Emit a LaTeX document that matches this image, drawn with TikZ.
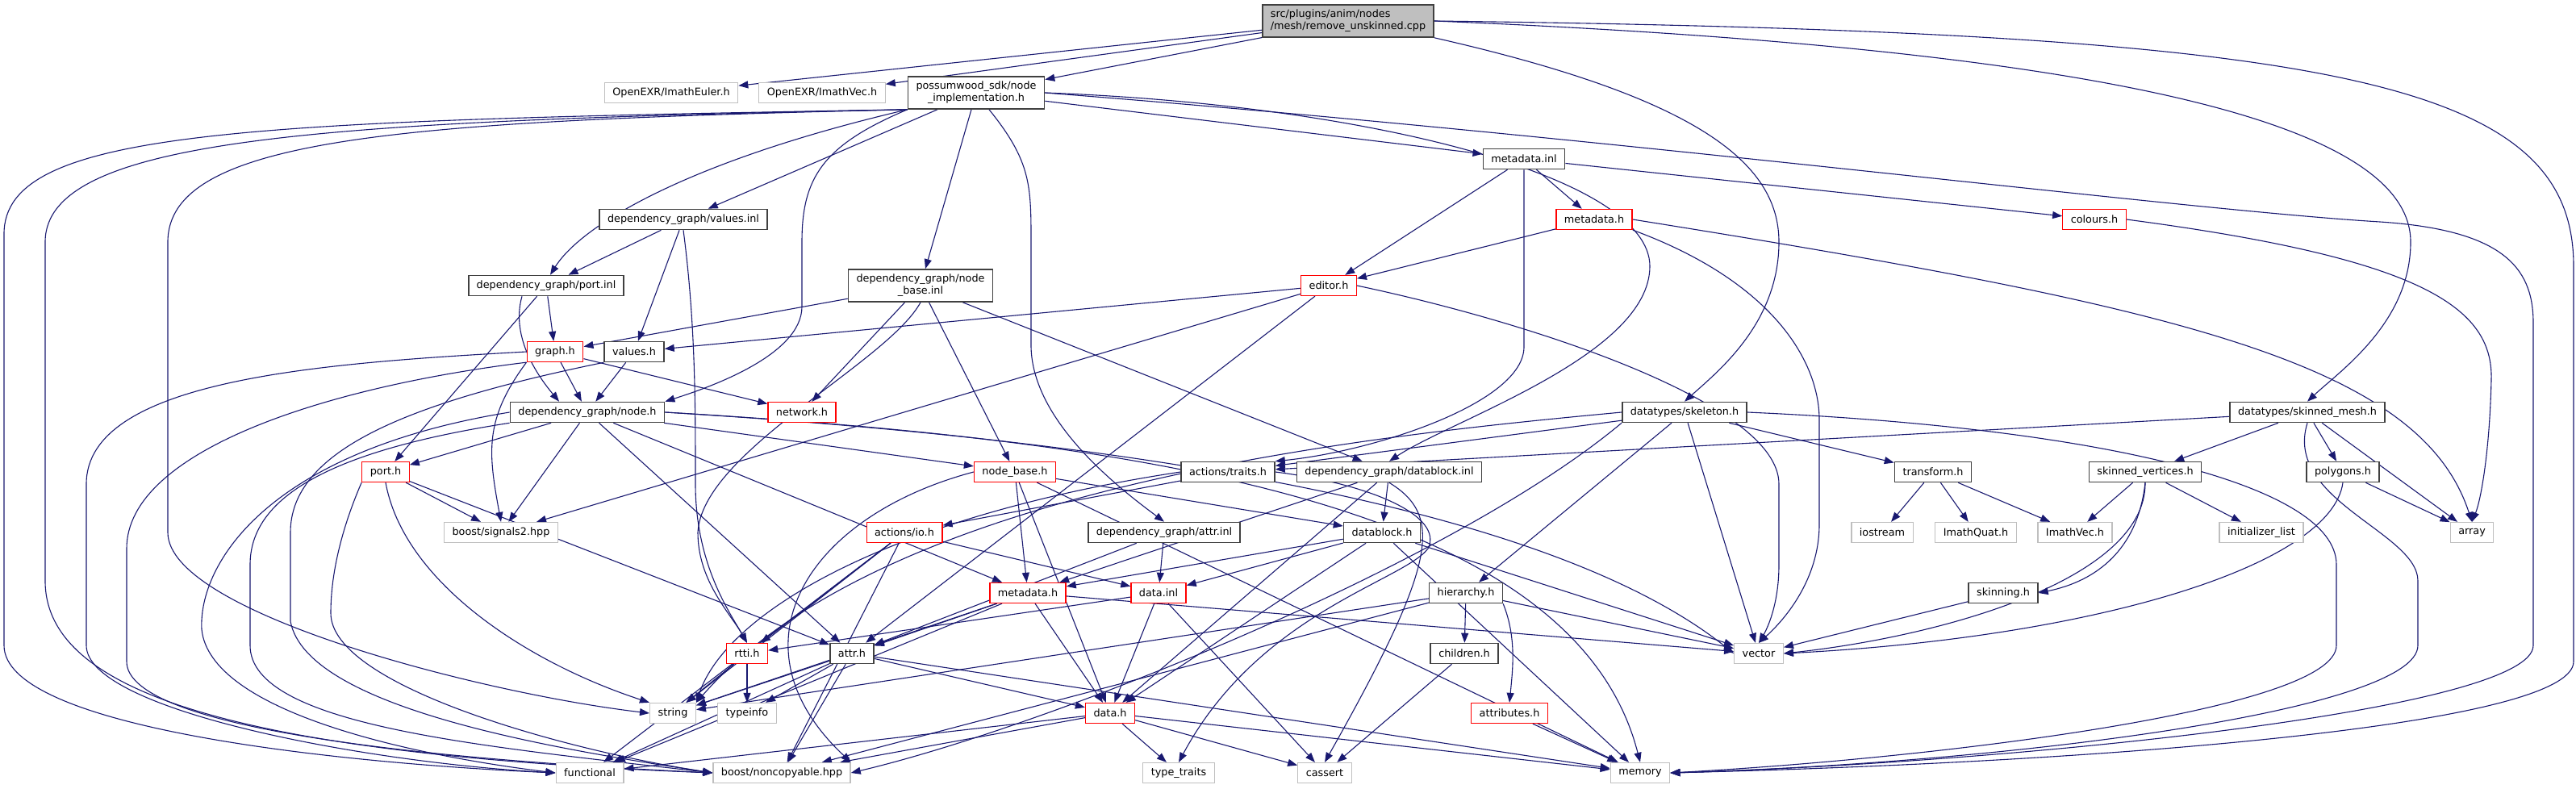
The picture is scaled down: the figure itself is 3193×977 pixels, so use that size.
\documentclass[tikz,border=0pt]{standalone}
\usepackage{fontspec}
\setmainfont{DejaVu Sans}
\usetikzlibrary{arrows.meta, positioning, backgrounds}
\definecolor{edgeblue}{RGB}{25,25,112}
\definecolor{boxgrey}{RGB}{191,191,191}
\definecolor{boxdark}{RGB}{64,64,64}
\tikzset{
  >={Triangle[length=12pt,width=9pt]},
  % include graph nodes
  file/.style={draw=boxdark,line width=1.6pt,fill=white,minimum height=25pt,inner xsep=10pt,inner ysep=0pt,
    font=\fontsize{12.8}{15}\selectfont},
  file red/.style={file,draw=red,line width=1.3pt},
  file sys/.style={file,draw=boxgrey,line width=1.3pt},
  file root/.style={file,fill=boxgrey,minimum height=40pt,align=left},
  file two/.style={file,minimum height=40pt,align=center},
  % connectors
  edge/.style={->,draw=edgeblue,line width=1.1pt}
}
\begin{document}
\begin{tikzpicture}[x=1pt,y=-1pt]
\useasboundingbox (0,0) rectangle (3193,977);
% row 0
\node[file root] (root) at (1671,26) {src/plugins/anim/nodes\\/mesh/remove\_unskinned.cpp};
% row 1
\node[file sys] (euler) at (832,115) {OpenEXR/ImathEuler.h};
\node[file sys] (vecexr) at (1019,115) {OpenEXR/ImathVec.h};
\node[file two] (impl) at (1210,115) {possumwood\_sdk/node\\\_implementation.h};
\node[file] (metainl) at (1889,197) {metadata.inl};
% row 2
\node[file] (valinl) at (847,272) {dependency\_graph/values.inl};
\node[file red] (metah) at (1976,272) {metadata.h};
\node[file red] (colours) at (2596,272) {colours.h};
% row 3
\node[file] (portinl) at (677,354) {dependency\_graph/port.inl};
\node[file two] (nbinl) at (1141,354) {dependency\_graph/node\\\_base.inl};
\node[file red] (editor) at (1647,354) {editor.h};
% row 4
\node[file red] (graph) at (688,436) {graph.h};
\node[file] (values) at (786,436) {values.h};
% row 5
\node[file] (nodeh) at (728,511) {dependency\_graph/node.h};
\node[file red] (network) at (994,511) {network.h};
\node[file] (skel) at (2088,511) {datatypes/skeleton.h};
\node[file] (skmesh) at (2860,511) {datatypes/skinned\_mesh.h};
% row 6
\node[file red] (porth) at (478,585) {port.h};
\node[file red] (nbh) at (1258,585) {node\_base.h};
\node[file] (traits) at (1522,585) {actions/traits.h};
\node[file] (dbinl) at (1722,585) {dependency\_graph/datablock.inl};
\node[file] (transf) at (2396,585) {transform.h};
\node[file] (skverts) at (2659,585) {skinned\_vertices.h};
\node[file] (polys) at (2904,585) {polygons.h};
% row 7
\node[file sys] (signals) at (621,660) {boost/signals2.hpp};
\node[file red] (io) at (1121,660) {actions/io.h};
\node[file] (attrinl) at (1443,660) {dependency\_graph/attr.inl};
\node[file] (dbh) at (1713,660) {datablock.h};
\node[file sys] (iostr) at (2333,660) {iostream};
\node[file sys] (quat) at (2449,660) {ImathQuat.h};
\node[file sys] (vech) at (2572,660) {ImathVec.h};
\node[file sys] (initl) at (2803,660) {initializer\_list};
\node[file sys] (array) at (3064,660) {array};
% row 8
\node[file red] (meta2) at (1274,735) {metadata.h};
\node[file red] (datainl) at (1436,735) {data.inl};
\node[file] (hier) at (1817,735) {hierarchy.h};
\node[file] (skinning) at (2483,735) {skinning.h};
% row 9
\node[file red] (rtti) at (926,810) {rtti.h};
\node[file] (attr) at (1056,810) {attr.h};
\node[file] (children) at (1815,810) {children.h};
\node[file sys] (vector) at (2180,810) {vector};
% row 10
\node[file sys] (string) at (834,884) {string};
\node[file sys] (typeinfo) at (926,884) {typeinfo};
\node[file red] (datah) at (1376,884) {data.h};
\node[file red] (attrib) at (1871,884) {attributes.h};
% row 11
\node[file sys] (functional) at (731,958) {functional};
\node[file sys] (noncopy) at (969,958) {boost/noncopyable.hpp};
\node[file sys] (ttraits) at (1461,958) {type\_traits};
\node[file sys] (cassert) at (1642,958) {cassert};
\node[file sys] (memory) at (2033,958) {memory};

\begin{scope}[on background layer]
% root
\draw[edge] (root) -- (euler);
\draw[edge] (root) -- (vecexr);
\draw[edge] (root) -- (impl);
\draw[edge] (root.south east) .. controls (2100,120) and (2205,200) .. (2205,300) .. controls (2205,400) and (2130,460) .. (skel.north);
\draw[edge] (root.east) .. controls (2600,60) and (2988,150) .. (2988,300) .. controls (2988,400) and (2900,460) .. (skmesh.north);
\draw[edge] (root.east) .. controls (2900,40) and (3190,100) .. (3190,330) -- (3190,820) .. controls (3190,900) and (2600,945) .. (memory.east);
% node_implementation.h
\draw[edge] (impl.south west) .. controls (300,150) and (5,160) .. (5,290) -- (5,800) .. controls (5,900) and (400,945) .. (functional.west);
\draw[edge] (impl.south west) .. controls (400,150) and (56,170) .. (56,300) -- (56,720) .. controls (56,860) and (300,935) .. (noncopy.west);
\draw[edge] (impl.south west) .. controls (500,150) and (208,170) .. (208,300) -- (208,660) .. controls (208,760) and (600,860) .. (string.west);
\draw[edge] (impl.south west) .. controls (850,200) and (720,280) .. ([xshift=5]portinl.north);
\draw[edge] (impl) -- (valinl);
\draw[edge] (impl.south west) .. controls (1020,180) and (994,220) .. (994,300) -- (994,380) .. controls (994,440) and (880,480) .. (nodeh.north east);
\draw[edge] (impl) -- (nbinl);
\draw[edge] ([xshift=16]impl.south) .. controls (1278,200) and (1278,230) .. (1278,300) -- (1278,430) .. controls (1280,520) and (1380,600) .. (attrinl.north);
\draw[edge] (impl.east) .. controls (1700,130) and (2045,220) .. (2045,330) .. controls (2045,440) and (1800,520) .. (dbinl.north);
\draw[edge] (impl.east) .. controls (2000,170) and (2700,260) .. (2950,275) .. controls (3100,285) and (3140,330) .. (3140,400) -- (3140,800) .. controls (3140,880) and (2500,945) .. (memory.east);
\draw[edge] (impl) -- (metainl);
% metadata.inl
\draw[edge] (metainl) -- (editor);
\draw[edge] (metainl) -- (metah);
\draw[edge] (metainl) -- (colours);
\draw[edge] (metainl.south) -- (1889,430) .. controls (1889,500) and (1700,560) .. (traits.north east);
% metadata.h
\draw[edge] (metah) -- (editor);
\draw[edge] (metah.south east) .. controls (2200,350) and (2255,450) .. (2255,520) -- (2255,650) .. controls (2255,720) and (2210,770) .. (vector.north);
\draw[edge] (metah.east) .. controls (2700,380) and (3000,450) .. (array.north);
\draw[edge] (colours.east) .. controls (3000,320) and (3090,380) .. (3088,470) .. controls (3086,560) and (3075,620) .. (array.north);
% editor.h
\draw[edge] (editor) -- (values);
\draw[edge] (editor) -- (signals);
\draw[edge] (editor) -- (attr);
\draw[edge] (editor.east) .. controls (1900,400) and (2205,500) .. (2205,600) -- (2205,700) .. controls (2205,750) and (2190,780) .. (vector.north);
% values.inl
\draw[edge] (valinl) -- (portinl);
\draw[edge] (valinl) -- (values);
\draw[edge] (valinl.south) .. controls (862,400) and (862,500) .. (862,600) .. controls (862,700) and (905,760) .. (rtti.north);
% port.inl
\draw[edge] (portinl) -- (graph);
\draw[edge] ([xshift=-30]portinl.south) .. controls (632,420) and (670,470) .. ([xshift=-35]nodeh.north);
\draw[edge] (portinl) -- (porth);
% node_base.inl
\draw[edge] (nbinl) -- (graph);
\draw[edge] (nbinl) -- (network);
\draw[edge] (nbinl.south) .. controls (1100,450) and (870,560) .. (865,660) .. controls (865,720) and (905,760) .. (rtti.north);
\draw[edge] (nbinl) -- (nbh);
\draw[edge] (nbinl) -- (dbinl);
% graph.h
\draw[edge] (graph) -- (nodeh);
\draw[edge] (graph.south west) .. controls (600,520) and (605,560) .. (signals.north);
\draw[edge] (graph) -- (network);
\draw[edge] (graph.west) .. controls (400,450) and (107,470) .. (107,600) -- (107,800) .. controls (107,880) and (450,945) .. (functional.west);
\draw[edge] (graph.south west) .. controls (400,480) and (157,560) .. (157,680) -- (157,820) .. controls (157,900) and (500,940) .. (noncopy.west);
% values.h
\draw[edge] (values) -- (nodeh);
\draw[edge] (values.south west) .. controls (500,500) and (360,560) .. (360,660) -- (360,770) .. controls (380,880) and (700,930) .. (noncopy.west);
% node.h
\draw[edge] (nodeh) -- (porth);
\draw[edge] (nodeh) -- (signals);
\draw[edge] (nodeh) -- (attr);
\draw[edge] (nodeh.west) .. controls (330,560) and (246,700) .. (250,780) .. controls (260,880) and (500,935) .. (functional.west);
\draw[edge] (nodeh.south west) .. controls (400,560) and (310,620) .. (310,700) -- (310,800) .. controls (310,900) and (600,925) .. (noncopy.west);
\draw[edge] (nodeh) -- (nbh);
\draw[edge] (nodeh) -- (meta2);
\draw[edge] (nodeh.east) .. controls (1300,540) and (1900,610) .. (vector.west);
\draw[edge] (nodeh.east) .. controls (1400,545) and (1950,620) .. (memory.north);
% port.h
\draw[edge] (porth) -- (signals);
\draw[edge] (porth.south) .. controls (500,720) and (650,820) .. (string.north west);
\draw[edge] (porth) -- (attr);
\draw[edge] (porth.south west) .. controls (430,640) and (410,700) .. (410,760) .. controls (410,850) and (700,930) .. (noncopy.west);
% node_base.h
\draw[edge] (nbh) -- (meta2);
\draw[edge] (nbh) -- (datah);
\draw[edge] (nbh) -- (dbh);
\draw[edge] (nbh) -- (memory);
\draw[edge] (nbh.west) .. controls (1000,640) and (900,800) .. (noncopy.north east);
% actions/traits.h
\draw[edge] (traits) -- (io);
\draw[edge] (traits.west) .. controls (1100,640) and (900,760) .. (string.north east);
\draw[edge] (traits.east) .. controls (1700,600) and (1790,640) .. (1770,680) .. controls (1740,720) and (1560,760) .. (ttraits.north);
% datablock.inl
\draw[edge] (dbinl) -- (dbh);
\draw[edge] (dbinl) -- (meta2);
\draw[edge] (dbinl) -- (datah);
\draw[edge] (dbinl.south) .. controls (1790,640) and (1780,700) .. (cassert.north);
% datablock.h
\draw[edge] (dbh) -- (datainl);
\draw[edge] (dbh) -- (meta2);
\draw[edge] (dbh) -- (datah);
\draw[edge] (dbh) -- (vector);
\draw[edge] (dbh) -- (memory);
% attr.inl
\draw[edge] (attrinl) -- (attr);
\draw[edge] (attrinl) -- (datainl);
% actions/io.h
\draw[edge] (io) -- (rtti);
\draw[edge] (io) -- (string);
\draw[edge] (io) -- (noncopy);
\draw[edge] (io) -- (datainl);
\draw[edge] (io) -- (functional);
% metadata.h (lower)
\draw[edge] (meta2) -- (attr);
\draw[edge] (meta2) -- (string);
\draw[edge] (meta2) -- (functional);
\draw[edge] (meta2) -- (datah);
\draw[edge] (meta2) -- (vector);
% data.inl
\draw[edge] (datainl) -- (datah);
\draw[edge] (datainl) -- (rtti);
\draw[edge] (datainl) -- (cassert);
% rtti.h
\draw[edge] (rtti) -- (string);
\draw[edge] (rtti) -- (typeinfo);
% attr.h
\draw[edge] (attr) -- (string);
\draw[edge] (attr) -- (typeinfo);
\draw[edge] (attr) -- (functional);
\draw[edge] (attr) -- (noncopy);
\draw[edge] (attr) -- (datah);
\draw[edge] (attr) -- (memory);
% data.h
\draw[edge] (datah) -- (functional);
\draw[edge] (datah) -- (noncopy);
\draw[edge] (datah) -- (ttraits);
\draw[edge] (datah) -- (cassert);
\draw[edge] (datah) -- (memory);
% skeleton.h
\draw[edge] (skel) -- (traits);
\draw[edge] (skel) -- (hier);
\draw[edge] (skel) -- (vector);
\draw[edge] (skel) -- (transf);
\draw[edge] (skel.west) .. controls (1700,540) and (1100,600) .. (string.north east);
\draw[edge] (skel.south west) .. controls (1800,700) and (1300,900) .. (noncopy.east);
\draw[edge] (skel.east) .. controls (2600,530) and (2896,600) .. (2896,700) -- (2896,800) .. controls (2896,880) and (2400,940) .. (memory.east);
% skinned_mesh.h
\draw[edge] (skmesh) -- (traits);
\draw[edge] (skmesh) -- (skverts);
\draw[edge] (skmesh) -- (polys);
\draw[edge] (skmesh) -- (array);
\draw[edge] (skmesh.south) .. controls (2830,620) and (2997,660) .. (2997,720) -- (2997,800) .. controls (2997,880) and (2500,945) .. (memory.east);
% the rest
\draw[edge] (transf) -- (iostr);
\draw[edge] (transf) -- (quat);
\draw[edge] (transf) -- (vech);
\draw[edge] (skverts) -- (vech);
\draw[edge] (skverts) -- (initl);
\draw[edge] (skverts.south) .. controls (2650,680) and (2600,720) .. (skinning.east);
\draw[edge] (skverts.south) .. controls (2660,720) and (2400,790) .. (vector.east);
\draw[edge] (polys) -- (array);
\draw[edge] (polys.south) .. controls (2890,700) and (2600,790) .. (vector.east);
\draw[edge] (skinning) -- (vector);
\draw[edge] (hier) -- (string);
\draw[edge] (hier) -- (children);
\draw[edge] (hier.south east) .. controls (1880,790) and (1875,830) .. (attrib.north);
\draw[edge] (hier) -- (vector);
\draw[edge] (hier) -- (noncopy);
\draw[edge] (children) -- (cassert);
\draw[edge] (attrib) -- (memory);
\end{scope}
\end{tikzpicture}
\end{document}
